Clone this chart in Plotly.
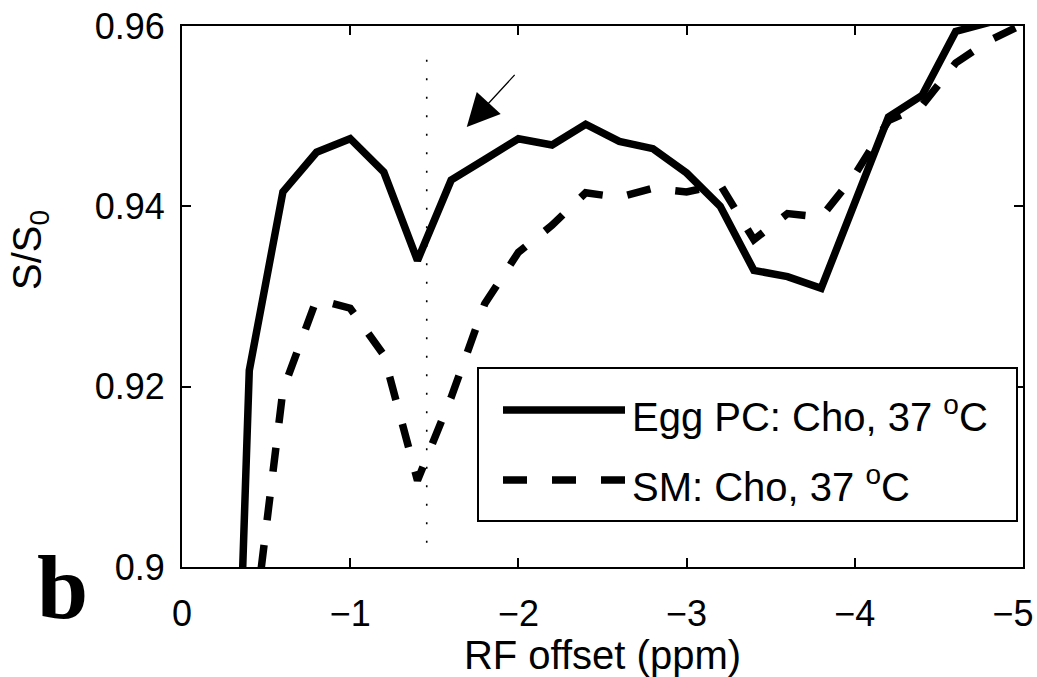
import plotly.graph_objects as go

# ---- data ----
rf_offset = [-0.2, -0.4, -0.6, -0.8, -1.0, -1.2, -1.4, -1.6, -1.8, -2.0, -2.2, -2.4, -2.6,
             -2.8, -3.0, -3.2, -3.4, -3.6, -3.8, -4.0, -4.2, -4.4, -4.6, -4.8, -5.0]
egg_pc = [0.81, 0.9218, 0.9416, 0.9460, 0.9475, 0.9438, 0.9340, 0.9429, 0.9452, 0.9475,
          0.9468, 0.9491, 0.9472, 0.9464, 0.9437, 0.9400, 0.9329, 0.9322, 0.9309, 0.9405,
          0.9499, 0.9523, 0.9594, 0.9604, 0.9615]
sm = [None, 0.889, 0.9196, 0.9297, 0.9287, 0.9235, 0.9096, 0.9188, 0.9292, 0.9349,
      0.9379, 0.9415, 0.9410, 0.9420, 0.9416, 0.9424, 0.9363, 0.9392, 0.9388, 0.9435,
      0.9495, 0.9512, 0.9559, 0.9584, 0.9602]
series_names = ["Egg PC: Cho, 37 <sup>o</sup>C", "SM: Cho, 37 <sup>o</sup>C"]
series_dash = ["solid", "24px,25px"]
x_ticks = [0, -1, -2, -3, -4, -5]
x_tick_text = ["0", "\u22121", "\u22122", "\u22123", "\u22124", "\u22125\u00a0\u00a0"]
y_ticks = [0.90, 0.92, 0.94, 0.96]
y_tick_text = ["0.9", "0.92", "0.94", "0.96"]
marker_x = -1.455          # dotted reference line position
marker_y = [0.9027, 0.958]
arrow_tip = (-1.693, 0.9488)
arrow_tail = (-1.986, 0.95475)

FONT = "Liberation Sans, Arial, sans-serif"
W, H = 1037, 677
L, R, T, B = 182, 14, 26, 110
PW, PH = W - L - R, H - T - B


def px_x(p):
    return (p - L) / PW


def px_y(p):
    return (H - B - p) / PH


fig = go.Figure()
for vals, name, dash in zip([egg_pc, sm], series_names, series_dash):
    fig.add_trace(go.Scatter(x=rf_offset, y=vals, mode="lines", name=name,
                             showlegend=False,
                             line=dict(color="black", width=7.5, dash=dash)))

# dotted reference line
fig.add_shape(type="line", xref="x", yref="y", x0=marker_x, x1=marker_x,
              y0=marker_y[0], y1=marker_y[1],
              line=dict(color="black", width=1.6, dash="2px,16.5px"))

# arrow
fig.add_annotation(x=arrow_tip[0], y=arrow_tip[1], ax=arrow_tail[0], ay=arrow_tail[1],
                   xref="x", yref="y", axref="x", ayref="y", text="", showarrow=True,
                   arrowhead=2, arrowsize=5, arrowwidth=1.3, arrowcolor="black")

axis_common = dict(showline=True, linecolor="black", linewidth=2, mirror="ticks",
                   ticks="inside", ticklen=9, tickwidth=2, tickcolor="black",
                   showgrid=False, zeroline=False, automargin=False,
                   ticklabeloverflow="allow",
                   tickfont=dict(family=FONT, size=36, color="black"))

fig.update_xaxes(range=[0, -5], tickvals=x_ticks, ticktext=x_tick_text,
                 ticklabelstandoff=14,
                 title=dict(text="RF offset (ppm)", font=dict(family=FONT, size=40, color="black"),
                            standoff=12),
                 **axis_common)
fig.update_yaxes(range=[0.9, 0.96], tickvals=y_ticks, ticktext=y_tick_text,
                 ticklabelstandoff=8, **axis_common)

# y-axis title
fig.add_annotation(text="S/S<sub>0</sub>", xref="paper", yref="paper",
                   x=px_x(30), y=px_y(250), textangle=-90,
                   showarrow=False, font=dict(family=FONT, size=40, color="black"),
                   xanchor="center", yanchor="middle")
# panel label
fig.add_annotation(text="<b>b</b>", xref="paper", yref="paper",
                   x=px_x(63), y=px_y(587),
                   showarrow=False, font=dict(family="Liberation Serif, Times New Roman, serif",
                                              size=92, color="black"),
                   xanchor="center", yanchor="middle")

# legend box (drawn as shapes + text so that its proportions match)
leg_box = (478, 368, 1017, 521)
leg_rows_y = [410, 480]
fig.add_shape(type="rect", xref="paper", yref="paper",
              x0=px_x(leg_box[0]), x1=px_x(leg_box[2]),
              y0=px_y(leg_box[3]), y1=px_y(leg_box[1]),
              line=dict(color="black", width=2), fillcolor="white", layer="above")
for ry, name, dash in zip(leg_rows_y, series_names, series_dash):
    fig.add_shape(type="line", xref="paper", yref="paper",
                  x0=px_x(503), x1=px_x(625), y0=px_y(ry), y1=px_y(ry),
                  line=dict(color="black", width=7.5, dash=dash), layer="above")
    fig.add_annotation(text=name, xref="paper", yref="paper",
                       x=px_x(630), y=px_y(ry + 4), xanchor="left", yanchor="middle",
                       showarrow=False, font=dict(family=FONT, size=40, color="black"))

fig.update_layout(
    width=W, height=H,
    margin=dict(l=L, r=R, t=T, b=B),
    plot_bgcolor="white", paper_bgcolor="white",
    showlegend=False,
)

fig.write_html("out.html")
